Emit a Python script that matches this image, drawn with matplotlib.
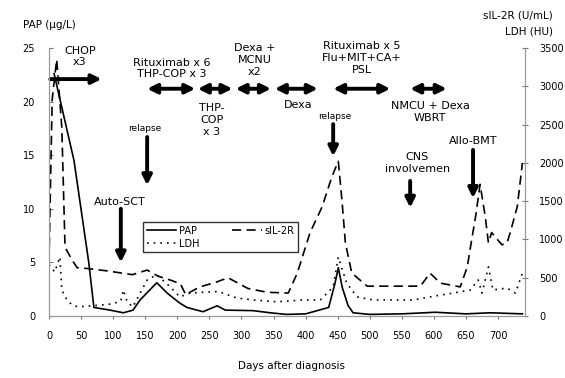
import matplotlib
matplotlib.use("Agg")
import matplotlib.pyplot as plt

# values
pap_days = [8, 39, 62, 70, 95, 116, 131, 142, 155, 168, 185, 204, 215, 240, 262, 275,
            318, 345, 370, 400, 436, 446, 451, 457, 466, 474, 500, 550, 602, 650, 688, 738]
pap_vals = [22.6, 14.5, 5.0, 0.8, 0.55, 0.3, 0.55, 1.5, 2.3, 3.1, 2.1, 1.2, 0.8, 0.4, 0.95, 0.55,
            0.5, 0.3, 0.15, 0.2, 0.8, 3.1, 4.5, 2.7, 1.0, 0.3, 0.15, 0.2, 0.35, 0.2, 0.3, 0.2]

sil2r_days = [0, 5, 12, 20, 25, 36, 44, 60, 90, 130, 153, 170, 189, 205, 213, 235, 260, 279,
              310, 340, 373, 387, 407, 426, 441, 451, 457, 462, 472, 496, 540, 579, 594, 610,
              641, 652, 657, 665, 672, 680, 685, 690, 706, 714, 719, 730, 738]
sil2r_vals = [720, 2830, 3350, 2460, 900, 730, 630, 620, 590, 540, 600, 520, 470, 420, 280, 380,
              440, 500, 360, 310, 300, 560, 1090, 1430, 1820, 2020, 1480, 955, 560, 390, 390,
              390, 560, 430, 380, 640, 900, 1300, 1720, 1300, 955, 1090, 930, 955, 1090, 1430, 2000]

ldh_days = [0, 9, 17, 20, 28, 36, 45, 78, 100, 112, 116, 122, 131, 142, 153, 168, 189, 204,
            220, 241, 264, 293, 318, 355, 396, 423, 443, 451, 464, 480, 505, 568, 594, 630,
            657, 669, 675, 685, 692, 714, 727, 738]
ldh_vals = [670, 575, 770, 340, 210, 145, 120, 140, 160, 200, 340, 180, 120, 300, 470, 540, 380,
            250, 300, 310, 320, 235, 210, 185, 210, 210, 380, 770, 430, 250, 210, 210, 250, 300,
            340, 470, 300, 640, 340, 365, 300, 560]

left_ticks = [0, 5, 10, 15, 20, 25]
right_ticks = [0, 500, 1000, 1500, 2000, 2500, 3000, 3500]
x_ticks = list(range(0, 701, 50))

plt.rcParams['font.family'] = 'DejaVu Sans'
fig = plt.figure(figsize=(5.65, 3.78), dpi=100)
ax = fig.add_axes([0.0867, 0.164, 0.8425, 0.709])
ax2 = ax.twinx()

ax.plot(pap_days, pap_vals, color='k', lw=1.2, label='PAP')
ax2.plot(sil2r_days, sil2r_vals, color='k', lw=1.2, linestyle=(0, (5.5, 3.2)), label='sIL-2R')
ax2.plot(ldh_days, ldh_vals, color='k', lw=1.2, linestyle=(0, (1, 3)), label='LDH')

ax.set_xlim(0, 742)
ax.set_ylim(0, 25)
ax2.set_ylim(0, 3500)
ax.set_xticks(x_ticks)
ax.set_yticks(left_ticks)
ax2.set_yticks(right_ticks)

for a in (ax, ax2):
    for s in a.spines.values():
        s.set_color('#999999')
    a.spines['top'].set_visible(False)
ax.tick_params(axis='y', direction='in', length=3, pad=10, labelsize=7, color='#777777')
ax.tick_params(axis='x', direction='out', length=2, pad=9, labelsize=7, color='#777777')
ax2.tick_params(axis='y', direction='inout', length=4, pad=8, labelsize=7, color='#777777')

# legend from both axes
h1 = ax.get_lines()
h2 = ax2.get_lines()
leg = ax.legend([h1[0], h2[1], h2[0]], ['PAP', 'LDH', 'sIL-2R'], ncol=2,
                loc='upper left', bbox_to_anchor=(0.187, 0.37), fontsize=7,
                frameon=True, fancybox=False, edgecolor='k', borderpad=0.4,
                handlelength=3.0, columnspacing=3.4, labelspacing=0.3, handletextpad=0.3)
leg.get_frame().set_linewidth(1.0)

fs = 8
# treatment annotations
ax.text(48, 24.2, 'CHOP\nx3', ha='center', va='center', fontsize=fs, linespacing=1.2)
ax.text(192, 23.1, 'Rituximab x 6\nTHP-COP x 3', ha='center', va='center', fontsize=fs, linespacing=1.2)
ax.text(254, 18.3, 'THP-\nCOP\nx 3', ha='center', va='center', fontsize=fs, linespacing=1.25)
ax.text(321, 23.9, 'Dexa +\nMCNU\nx2', ha='center', va='center', fontsize=fs, linespacing=1.25)
ax.text(388, 19.7, 'Dexa', ha='center', va='center', fontsize=fs)
ax.text(488, 24.1, 'Rituximab x 5\nFlu+MIT+CA+\nPSL', ha='center', va='center', fontsize=fs, linespacing=1.25)
ax.text(594, 19.0, 'NMCU + Dexa\nWBRT', ha='center', va='center', fontsize=fs, linespacing=1.25)
ax.text(150, 17.5, 'relapse', ha='center', va='center', fontsize=6.5)
ax.text(446, 18.6, 'relapse', ha='center', va='center', fontsize=6.5)
ax.text(111, 10.6, 'Auto-SCT', ha='center', va='center', fontsize=fs)
ax.text(574, 14.3, 'CNS\ninvolvemen', ha='center', va='center', fontsize=fs, linespacing=1.25)
ax.text(661, 16.3, 'Allo-BMT', ha='center', va='center', fontsize=fs)

one_way = dict(arrowstyle='-|>', lw=2.8, color='k', mutation_scale=14, shrinkA=0, shrinkB=0)
two_way = dict(arrowstyle='<|-|>', lw=2.8, color='k', mutation_scale=14, shrinkA=0, shrinkB=0)

ax.annotate('', xy=(82, 22.1), xytext=(2, 22.1), arrowprops=one_way)
for x0, x1 in [(153, 228), (232, 286), (291, 346), (352, 419), (443, 532), (563, 620)]:
    ax.annotate('', xy=(x1, 21.2), xytext=(x0, 21.2), arrowprops=two_way)

for x, y0, y1 in [(153, 16.7, 12.2), (112, 10.0, 5.0), (443, 17.9, 14.9),
                  (563, 12.6, 10.1), (661, 15.5, 11.0)]:
    ax.annotate('', xy=(x, y1), xytext=(x, y0), arrowprops=one_way)

fig.text(23 / 565, 1 - 25 / 378, 'PAP (\u03bcg/L)', ha='left', va='center', fontsize=7.5)
fig.text(553 / 565, 1 - 15 / 378, 'sIL-2R (U/mL)', ha='right', va='center', fontsize=7.5)
fig.text(553 / 565, 1 - 31 / 378, 'LDH (HU)', ha='right', va='center', fontsize=7.5)
fig.text(292 / 565, 1 - 366 / 378, 'Days after diagnosis', ha='center', va='center', fontsize=7.5)

fig.savefig('out.png', dpi=100)
